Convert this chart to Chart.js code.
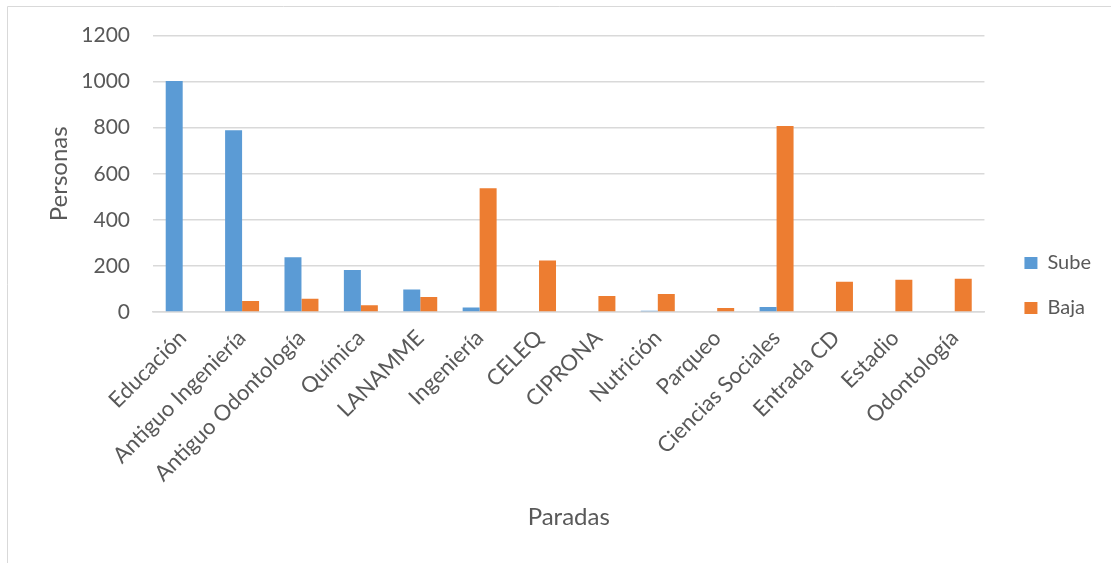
<!DOCTYPE html>
<html lang="es">
<head>
<meta charset="utf-8">
<title>Personas que suben y bajan por parada</title>
<script src="https://cdn.jsdelivr.net/npm/chart.js@4.4.1/dist/chart.umd.min.js"></script>
<style>
  html, body { margin: 0; padding: 0; background: #ffffff; }
  #wrap { position: relative; width: 1111px; height: 563px; }
</style>
</head>
<body>
<div id="wrap"><canvas id="chart" width="1111" height="563"></canvas></div>
<script>
// Paradas de la ruta
const paradas = [
  'Educación', 'Antiguo Ingeniería', 'Antiguo Odontología', 'Química', 'LANAMME',
  'Ingeniería', 'CELEQ', 'CIPRONA', 'Nutrición', 'Parqueo', 'Ciencias Sociales',
  'Entrada CD', 'Estadio', 'Odontología'
];

// Personas que suben en cada parada
const sube = [1003, 789, 238, 182, 98, 19, 0, 0, 5, 0, 22, 0, 0, 0];

// Personas que bajan en cada parada
const baja = [0, 48, 57, 29, 65, 537, 224, 69, 78, 17, 808, 131, 140, 144];

// Marcas del eje vertical
const yTicks = [0, 200, 400, 600, 800, 1000, 1200];

const TEXT = '#595959';
const GRID = '#d9d9d9';
const FONT = 'Lato, "Open Sans", sans-serif';

// Marco del área del gráfico (lados izquierdo y superior)
const chartFrame = {
  id: 'chartFrame',
  beforeDraw(chart) {
    const ctx = chart.ctx;
    ctx.save();
    ctx.strokeStyle = '#d9d9d9';
    ctx.lineWidth = 1;
    ctx.beginPath();
    ctx.moveTo(7.5, chart.height);
    ctx.lineTo(7.5, 6.5);
    ctx.lineTo(chart.width, 6.5);
    ctx.stroke();
    ctx.restore();
  }
};

// Desplaza la leyenda un poco a la derecha del área de trazado
const legendOffset = {
  id: 'legendOffset',
  afterLayout(chart) {
    const lg = chart.legend;
    if (lg) { lg.left += 15; lg.right += 15; }
  }
};

new Chart(document.getElementById('chart'), {
  type: 'bar',
  data: {
    labels: paradas,
    datasets: [
      { label: 'Sube', data: sube, backgroundColor: '#5B9BD5', borderWidth: 0 },
      { label: 'Baja', data: baja, backgroundColor: '#ED7D31', borderWidth: 0 }
    ]
  },
  options: {
    responsive: false,
    animation: false,
    devicePixelRatio: 1,
    layout: { padding: { left: 10, top: 35, right: 25, bottom: 27 } },
    datasets: { bar: { categoryPercentage: 0.572, barPercentage: 1.0 } },
    plugins: {
      legend: {
        position: 'right',
        align: 'center',
        labels: {
          boxWidth: 13,
          boxHeight: 12,
          padding: 25,
          color: TEXT,
          font: { family: FONT, size: 20 }
        }
      },
      tooltip: { enabled: false }
    },
    scales: {
      x: {
        grid: { display: false, drawTicks: false },
        border: { display: true, color: GRID, width: 1.5 },
        ticks: {
          autoSkip: false,
          maxRotation: 45,
          minRotation: 45,
          padding: 13,
          color: TEXT,
          font: { family: FONT, size: 22 }
        },
        title: {
          display: true,
          text: 'Paradas',
          color: TEXT,
          font: { family: FONT, size: 24 },
          padding: { top: 0, bottom: 4 }
        },
        afterFit(scale) { scale.height = 563 - 27 - 312; }
      },
      y: {
        min: 0,
        max: 1200,
        afterBuildTicks(scale) { scale.ticks = yTicks.map(v => ({ value: v })); },
        grid: { color: GRID, lineWidth: 1.5, drawTicks: false },
        border: { display: false },
        ticks: {
          padding: 23,
          color: TEXT,
          font: { family: FONT, size: 21 },
          callback: (v) => String(v)
        },
        title: {
          display: true,
          text: 'Personas',
          color: TEXT,
          font: { family: FONT, size: 24 },
          padding: { top: 35, bottom: 0 }
        },
        afterFit(scale) { scale.width = 153 - 10; }
      }
    }
  },
  plugins: [chartFrame, legendOffset]
});
</script>
</body>
</html>
